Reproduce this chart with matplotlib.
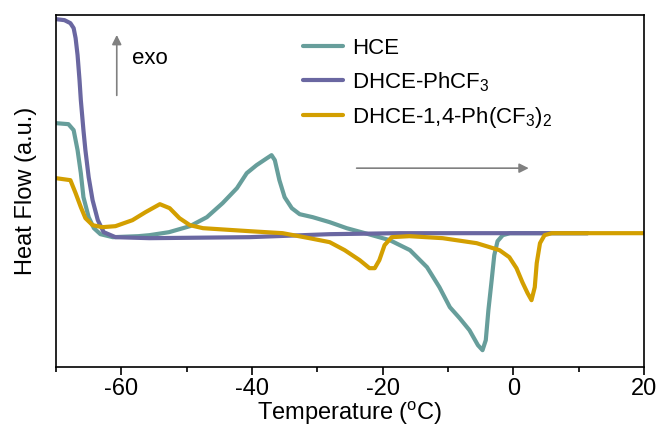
"""DSC heat-flow curves of HCE, DHCE-PhCF3 and DHCE-1,4-Ph(CF3)2."""

import matplotlib

matplotlib.use("Agg")
import matplotlib.pyplot as plt

plt.rcParams["font.family"] = ["Liberation Sans", "DejaVu Sans"]
plt.rcParams["mathtext.fontset"] = "custom"
plt.rcParams["mathtext.rm"] = "Liberation Sans"
plt.rcParams["axes.unicode_minus"] = False

# temperature (degC) / heat flow (a.u.)
hce_t = [-70.0, -68.1, -67.3, -66.7, -66.2, -65.8, -65.0, -64.2, -63.2, -61.3,
         -57.4, -55.7, -52.7, -49.5, -46.9, -44.5, -42.3, -40.8, -39.3, -37.7,
         -37.0, -36.5, -35.8, -35.0, -33.9, -32.7, -30.7, -28.1, -25.5, -22.7,
         -18.9, -15.8, -13.2, -11.3, -9.7, -8.2, -6.7, -5.4, -4.7, -4.2,
         -3.8, -3.3, -2.9, -2.4, -1.6, -0.5, 11.4]
hce_q = [24.4, 24.3, 23.7, 21.7, 19.4, 17.0, 15.0, 13.9, 13.3, 13.0,
         13.1, 13.2, 13.5, 14.1, 15.0, 16.4, 17.9, 19.4, 20.2, 20.9,
         21.2, 20.7, 18.7, 17.0, 15.9, 15.3, 15.0, 14.5, 13.9, 13.4,
         12.7, 11.7, 10.0, 8.0, 6.0, 4.9, 3.7, 2.2, 1.7, 2.7,
         5.7, 8.7, 11.2, 12.6, 13.2, 13.4, 13.4]

phcf3_t = [-70.0, -68.7, -67.8, -67.3, -67.0, -66.7, -66.4, -66.2, -65.8, -65.5,
           -65.0, -64.4, -63.6, -62.7, -60.9, -55.7, -40.4, -28.1, -17.4, 11.4]
phcf3_q = [34.8, 34.7, 34.4, 33.9, 32.9, 31.2, 28.7, 26.7, 23.7, 21.7,
           19.0, 16.7, 14.7, 13.5, 13.0, 12.9, 13.0, 13.3, 13.4, 13.4]

ph2_t = [-70.0, -67.8, -67.0, -66.2, -65.5, -64.4, -62.9, -60.9, -58.3, -56.3,
         -54.1, -52.6, -51.1, -49.5, -47.5, -40.4, -35.3, -31.2, -28.1, -25.8,
         -23.5, -22.0, -21.2, -20.5, -19.7, -18.6, -15.9, -10.8, -5.6, -2.1,
         -0.6, 0.5, 1.4, 2.2, 2.8, 3.3, 3.6, 4.1, 4.8, 5.9, 20.0]
ph2_q = [18.9, 18.7, 17.4, 16.0, 14.9, 14.2, 14.0, 14.1, 14.7, 15.5,
         16.3, 15.9, 14.9, 14.2, 13.9, 13.6, 13.4, 12.9, 12.5, 11.7,
         10.7, 9.9, 9.9, 10.7, 12.2, 13.0, 13.1, 12.9, 12.4, 11.7,
         11.0, 9.9, 8.5, 7.4, 6.7, 8.0, 10.4, 12.4, 13.2, 13.4, 13.4]

labels = ["HCE", r"DHCE-PhCF$\mathregular{_3}$", r"DHCE-1,4-Ph(CF$\mathregular{_3}$)$\mathregular{_2}$"]
colors = ["#679e9b", "#6a67a1", "#d39f00"]

fig = plt.figure(figsize=(6.59, 4.33), dpi=100)
ax = fig.add_axes([0.085, 0.152, 0.892, 0.813])

for t, q, lab, col in zip((hce_t, phcf3_t, ph2_t), (hce_q, phcf3_q, ph2_q), labels, colors):
    ax.plot(t, q, color=col, lw=3, label=lab, solid_joinstyle="round", solid_capstyle="round")

ax.set_xlim(-70, 20)
ax.set_ylim(0, 35.2)
ax.set_xticks([-60, -40, -20, 0, 20])
ax.set_xticks([-70, -50, -30, -10, 10], minor=True)
ax.set_yticks([])
ax.tick_params(axis="x", which="major", direction="out", length=6, width=1.2, labelsize=17, pad=2)
ax.tick_params(axis="x", which="minor", direction="out", length=3.5, width=1.2)
for spine in ax.spines.values():
    spine.set_linewidth(1.2)

ax.set_xlabel(r"Temperature ($\mathregular{^o}$C)", fontsize=17, labelpad=0)
ax.set_ylabel("Heat Flow (a.u.)", fontsize=17, labelpad=14)

ax.legend(loc="upper left", bbox_to_anchor=(0.42, 0.935), frameon=False, fontsize=16,
          handlelength=1.8, handletextpad=0.4, labelspacing=0.5, borderpad=0, borderaxespad=0)

arrow = dict(arrowstyle="-|>", color="#808080", lw=1.2, mutation_scale=14)
ax.annotate("", xy=(-60.7, 33.5), xytext=(-60.7, 26.9), arrowprops=arrow)
ax.annotate("", xy=(2.8, 19.9), xytext=(-24.4, 19.9), arrowprops=arrow)
ax.text(-58.3, 30.9, "exo", fontsize=16, va="center", ha="left")

fig.savefig("out.png", dpi=100)
